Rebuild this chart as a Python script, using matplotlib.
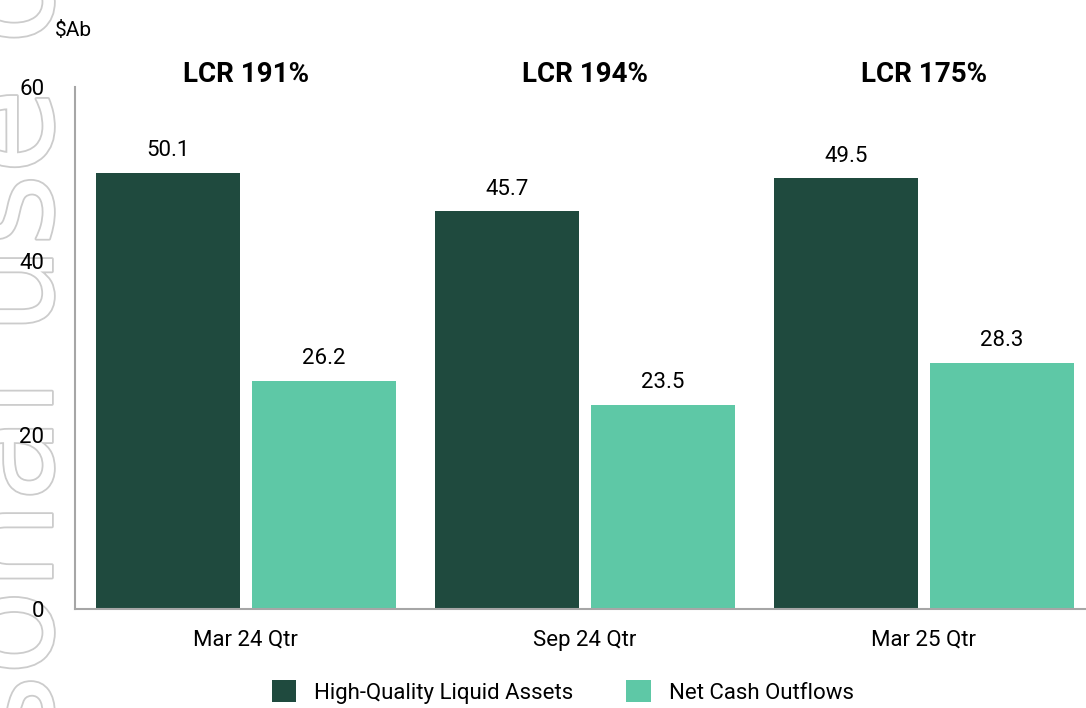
import matplotlib
matplotlib.use("Agg")
import matplotlib.pyplot as plt
import matplotlib.patheffects as pe
from matplotlib.transforms import blended_transform_factory
import numpy as np

categories = ["Mar 24 Qtr", "Sep 24 Qtr", "Mar 25 Qtr"]
hqla = [50.1, 45.7, 49.5]
nco = [26.2, 23.5, 28.3]
lcr_labels = ["LCR 191%", "LCR 194%", "LCR 175%"]
series_names = ["High-Quality Liquid Assets", "Net Cash Outflows"]
yticks = [0, 20, 40, 60]

dark = "#1F4A3E"
light = "#5EC8A6"

plt.rcParams['font.family'] = ['Roboto', 'DejaVu Sans']

fig = plt.figure(figsize=(10.86, 7.08), dpi=100)
ax = fig.add_axes([75/1086, 1-609/708, 1-75/1086, (609-87)/708])
ax.patch.set_alpha(0)

# watermark
fig.text(52/1086, 1+249/708, "For personal use only", rotation=90, rotation_mode='anchor',
         ha='right', va='baseline', fontsize=100, color='white', zorder=-5,
         family='DejaVu Sans',
         path_effects=[pe.Stroke(linewidth=2.6, foreground='#cccccc'), pe.Normal()])

x = np.arange(len(categories))
w = 0.425
off = 0.23
b1 = ax.bar(x - off, hqla, w, color=dark, label=series_names[0])
b2 = ax.bar(x + off, nco, w, color=light, label=series_names[1])

for bars, vals in ((b1, hqla), (b2, nco)):
    for r, v in zip(bars, vals):
        ax.annotate(f"{v:.1f}", (r.get_x() + r.get_width()/2, v), xytext=(0, 12),
                    textcoords='offset points', ha='center', va='baseline', fontsize=16)

trans = blended_transform_factory(ax.transData, ax.transAxes)
for xi, t in zip(x, lcr_labels):
    ax.text(xi, 1.0 + 5/522, t, transform=trans, ha='center', va='baseline',
            fontsize=20, fontweight='bold')

ax.set_xlim(-0.504, 2.478)
ax.set_ylim(0, 60)
ax.set_yticks(yticks)
ax.set_xticks(x)
ax.set_xticklabels(categories)
ax.tick_params(axis='both', length=0, labelsize=16)
ax.tick_params(axis='x', pad=15)
ax.tick_params(axis='y', pad=22)
for s in ('top', 'right'):
    ax.spines[s].set_visible(False)
for s in ('left', 'bottom'):
    ax.spines[s].set_color('#A6A6A6')
    ax.spines[s].set_linewidth(1.5)

fig.text(55/1086, 1-36/708, "$Ab", fontsize=15, ha='left', va='baseline')

fig.legend(handles=[b1, b2], labels=series_names, loc='center',
           bbox_to_anchor=(0.518, 1-692/708), ncol=2, frameon=False, fontsize=16,
           handlelength=1.1, handleheight=1.1, handletextpad=0.8, columnspacing=2.4)

fig.savefig("out.png", dpi=100)
